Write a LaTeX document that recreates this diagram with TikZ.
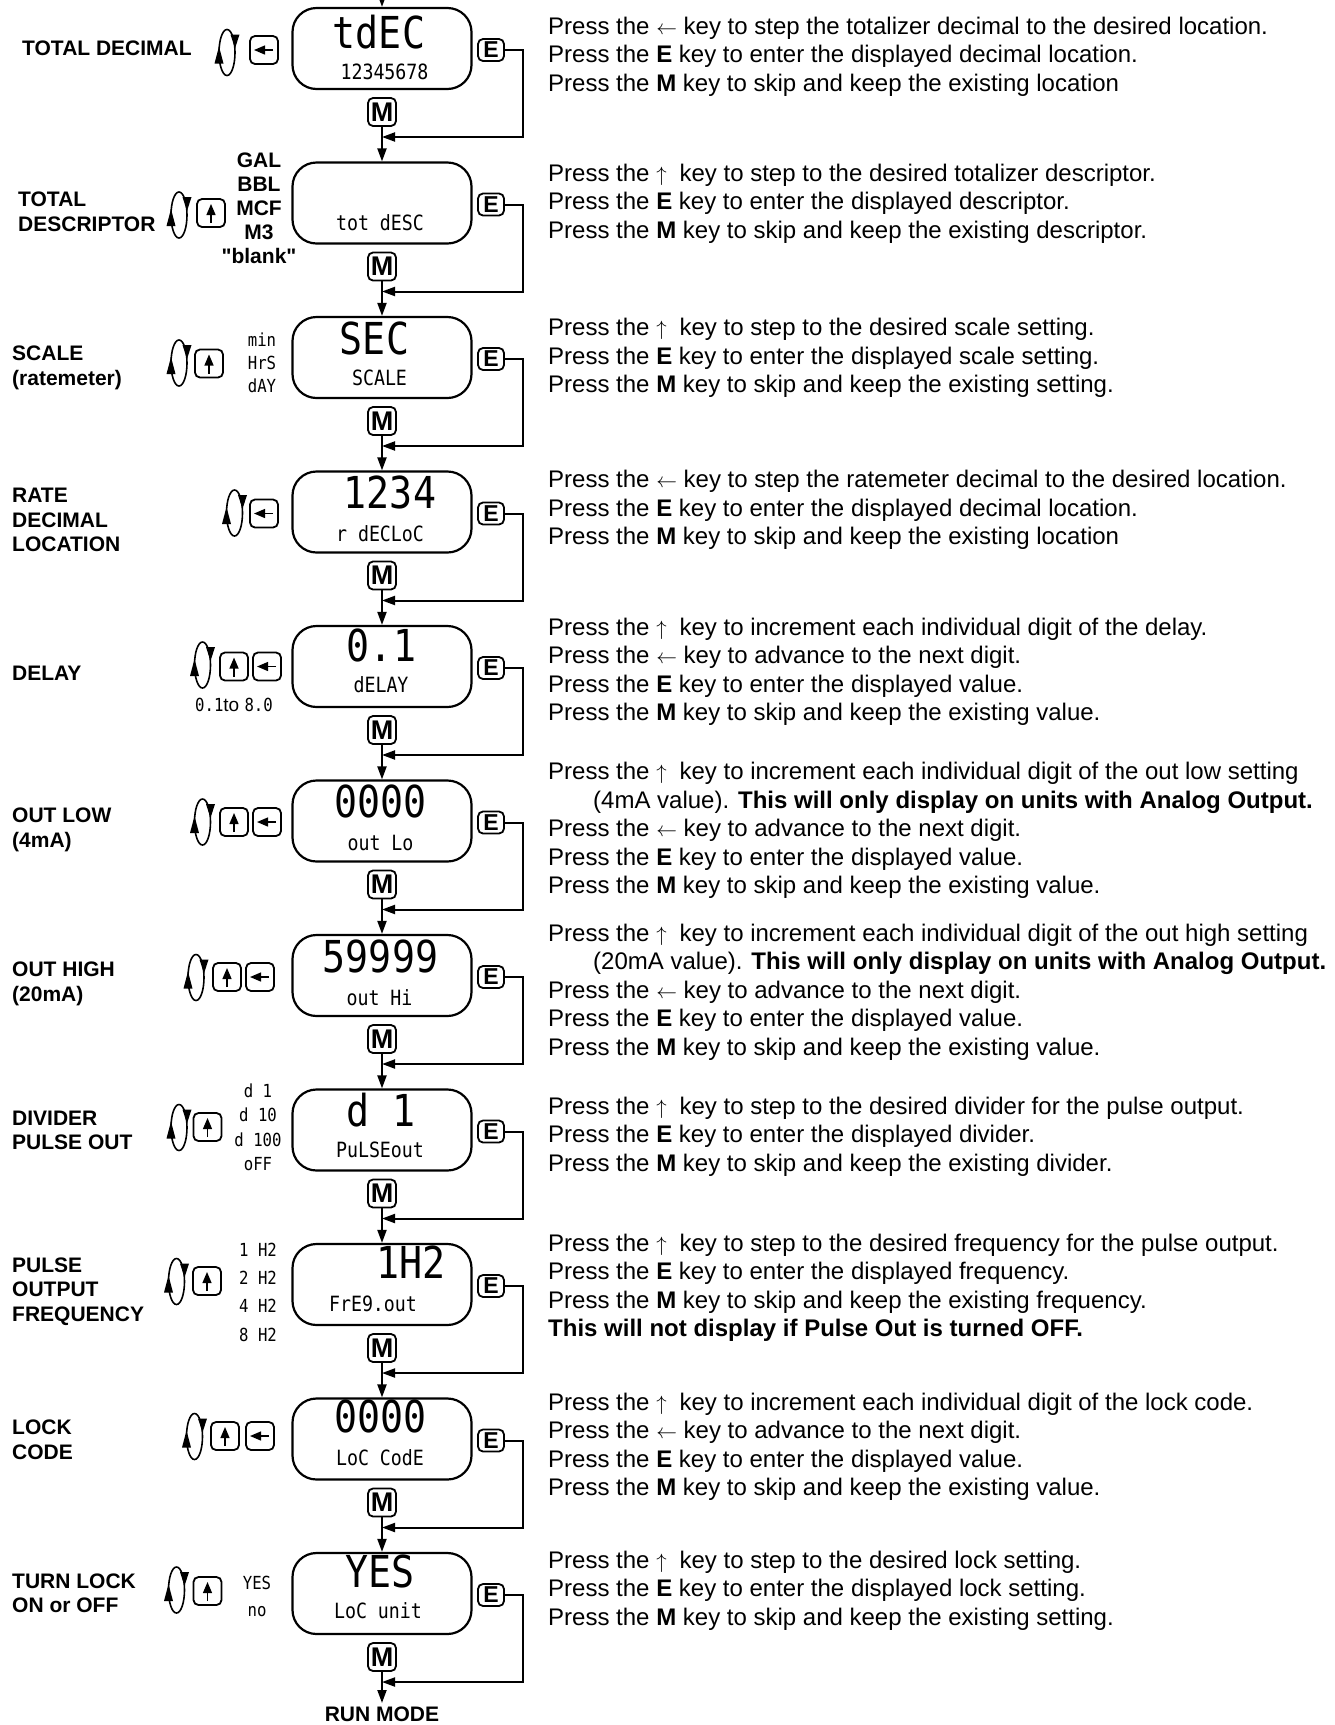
\documentclass[tikz,border=0pt]{standalone}
\usepackage{fontspec}
\setmainfont{Liberation Sans}[Ligatures=TeXOff]
\newfontfamily\lcdfont[FakeStretch=0.87]{DejaVu Sans Mono}
\usetikzlibrary{arrows.meta}

\newcommand{\lk}{{\fontsize{20}{20}\selectfont$\leftarrow$}}
\newcommand{\uk}{{\fontsize{20}{20}\selectfont$\uparrow$}\hspace{13pt}}
\newcommand{\lcdopt}{\lcdfont\fontsize{18}{18}\selectfont}

\tikzset{
	lcdbox/.style={draw, line width=2.2pt, rounded corners=24pt,
		minimum width=179pt, minimum height=81pt, inner sep=0pt},
	keybox/.style={draw, line width=1.8pt, rounded corners=5pt,
		minimum width=28pt, minimum height=28pt, inner sep=0pt},
	ekey/.style={keybox, minimum width=26pt, minimum height=22pt,
		font=\bfseries\fontsize{23}{23}\selectfont},
	mkey/.style={keybox, font=\bfseries\fontsize{27}{27}\selectfont},
	flow/.style={line width=2pt, -{Triangle[length=13pt,width=9pt]}},
	glyph/.style={line width=1.3pt, -{Triangle[length=11pt,width=9pt]}},
	lbl/.style={anchor=base west, align=left, inner sep=0pt,
		font=\bfseries\fontsize{21}{24.5}\selectfont},
	units/.style={anchor=base, align=center, inner sep=0pt,
		font=\bfseries\fontsize{21}{24}\selectfont},
	note/.style={anchor=base west, align=left, inner sep=0pt,
		font=\fontsize{24}{28.5}\selectfont},
	big/.style={inner sep=0pt, font=\lcdfont\fontsize{44}{44}\selectfont},
	small/.style={inner sep=0pt, font=\lcdfont\fontsize{21}{21}\selectfont},
	opts/.style={align=center, inner sep=0pt, font=\lcdfont\fontsize{18}{#1}\selectfont},
	opts/.default=24,
	loopicon/.pic={
		\draw[line width=1.6pt] (0,0) ellipse [x radius=8pt, y radius=23pt];
		\fill (-8,-6) -- (-12.5,11) -- (-3.5,11) -- cycle;
		\fill (8,-4) -- (3.5,-18) -- (12.5,-18) -- cycle;
	},
	upkey/.pic={
		\node[keybox] (-k) {};
		\draw[glyph] (0,10) -- (0,-9);
	},
	leftkey/.pic={
		\node[keybox] (-k) {};
		\draw[glyph] (9,0) -- (-10,0);
	},
}

\begin{document}
\begin{tikzpicture}[x=1pt,y=-1pt]
	\useasboundingbox (0,0) rectangle (1335,1725);

	% displays, E and M keys, return lines
	\foreach \k in {0,...,10}{
		\pgfmathsetmacro\yc{50+154.5*\k}
		\node[lcdbox] (d\k) at (382,\yc-1.5) {};
		\node[ekey] (e\k) at (491,\yc) {E};
		\node[mkey] (m\k) at (382,\yc+62) {M};
		\coordinate (j\k) at (382,\yc+87);
		\draw[flow] (e\k.east) -- ++(18,0) |- (j\k);
	}
	\coordinate (top) at (382,-6);
	\draw[flow] (top) -- (d0);
	\foreach \k [evaluate=\k as \n using int(\k+1)] in {0,...,9}
		\draw[flow] (m\k) -- (d\n);
	\node[lbl, anchor=north, inner ysep=4pt] (run) at (382,1703) {RUN MODE};
	\draw[flow] (m10) -- (run);

	% total decimal
	\node[lbl] (l0) at (22,55) {TOTAL DECIMAL};
	\pic (c0) at (227,52.5) {loopicon};
	\pic (k0) at (264,50) {leftkey};
	\node[big] (t0) at (379,32) {tdEC};
	\node[small] (s0) at (384.5,72) {12345678};
	\node[note] (n0) at (548,91) {Press the \lk\ key to step the totalizer decimal to the desired location.\\
		Press the \textbf{E} key to enter the displayed decimal location.\\
		Press the \textbf{M} key to skip and keep the existing location};

	% total descriptor
	\node[lbl] (l1) at (18,231) {TOTAL\\DESCRIPTOR};
	\pic (c1) at (179,215) {loopicon};
	\pic (k1) at (211,213) {upkey};
	\node[units] (o1) at (259,263.5) {GAL\\BBL\\MCF\\M3\\"blank"};
	\node[small] (s1) at (380,222.5) {tot dESC};
	\node[note] (n1) at (548,238) {Press the \uk key to step to the desired totalizer descriptor.\\
		Press the \textbf{E} key to enter the displayed descriptor.\\
		Press the \textbf{M} key to skip and keep the existing descriptor.};

	% scale
	\node[lbl] (l2) at (12,385) {SCALE\\(ratemeter)};
	\pic (c2) at (179,363) {loopicon};
	\pic (k2) at (209,363.5) {upkey};
	\node[opts=23] (o2) at (262,363) {min\\HrS\\dAY};
	\node[big] (t2) at (374.5,338.7) {SEC};
	\node[small] (s2) at (379.5,377.7) {SCALE};
	\node[note] (n2) at (548,392.5) {Press the \uk key to step to the desired scale setting.\\
		Press the \textbf{E} key to enter the displayed scale setting.\\
		Press the \textbf{M} key to skip and keep the existing setting.};

	% rate decimal
	\node[lbl] (l3) at (12,551.5) {RATE\\DECIMAL\\LOCATION};
	\pic (c3) at (234.5,513) {loopicon};
	\pic (k3) at (264,513.5) {leftkey};
	\node[big] (t3) at (390,492) {1234};
	\node[small] (s3) at (380,534) {r dECLoC};
	\node[note] (n3) at (548,544.5) {Press the \lk\ key to step the ratemeter decimal to the desired location.\\
		Press the \textbf{E} key to enter the displayed decimal location.\\
		Press the \textbf{M} key to skip and keep the existing location};

	% delay
	\node[lbl] (l4) at (12,680.5) {DELAY};
	\pic (c4) at (202.5,665) {loopicon};
	\pic (k4) at (234,666.5) {upkey};
	\pic (h4) at (267,666.5) {leftkey};
	\node[font=\fontsize{19}{19}\selectfont, inner sep=0pt] (r4) at (234,705) {{\lcdopt 0.1}to {\lcdopt 8.0}};
	\node[big] (t4) at (381.5,645) {0.1};
	\node[small] (s4) at (381,685) {dELAY};
	\node[note] (n4) at (548,720.5) {Press the \uk key to increment each individual digit of the delay.\\
		Press the \lk\ key to advance to the next digit.\\
		Press the \textbf{E} key to enter the displayed value.\\
		Press the \textbf{M} key to skip and keep the existing value.};

	% out low
	\node[lbl] (l5) at (12,847) {OUT LOW\\(4mA)};
	\pic (c5) at (202.5,822) {loopicon};
	\pic (k5) at (234,822) {upkey};
	\pic (h5) at (267,822) {leftkey};
	\node[big] (t5) at (380.5,801) {0000};
	\node[small] (s5) at (380.5,842.5) {out Lo};
	\node[note] (n5) at (548,893.5) {Press the \uk key to increment each individual digit of the out low setting\\
		\hspace*{45pt}(4mA value). \textbf{This will only display on units with Analog Output.}\\
		Press the \lk\ key to advance to the next digit.\\
		Press the \textbf{E} key to enter the displayed value.\\
		Press the \textbf{M} key to skip and keep the existing value.};

	% out high
	\node[lbl] (l6) at (12,1001) {OUT HIGH\\(20mA)};
	\pic (c6) at (196,977.5) {loopicon};
	\pic (k6) at (227,977) {upkey};
	\pic (h6) at (260,977) {leftkey};
	\node[big] (t6) at (380.5,956) {59999};
	\node[small] (s6) at (379.5,997.5) {out Hi};
	\node[note] (n6) at (548,1055) {Press the \uk key to increment each individual digit of the out high setting\\
		\hspace*{45pt}(20mA value). \textbf{This will only display on units with Analog Output.}\\
		Press the \lk\ key to advance to the next digit.\\
		Press the \textbf{E} key to enter the displayed value.\\
		Press the \textbf{M} key to skip and keep the existing value.};

	% divider
	\node[lbl] (l7) at (12,1149.5) {DIVIDER\\PULSE OUT};
	\pic (c7) at (179,1127.5) {loopicon};
	\pic (k7) at (207.5,1127) {upkey};
	\node[opts=24.5] (o7) at (258,1127.5) {d 1\\d 10\\d 100\\oFF};
	\node[big] (t7) at (381,1110) {d 1};
	\node[small] (s7) at (380,1149.5) {PuLSEout};
	\node[note] (n7) at (548,1171) {Press the \uk key to step to the desired divider for the pulse output.\\
		Press the \textbf{E} key to enter the displayed divider.\\
		Press the \textbf{M} key to skip and keep the existing divider.};

	% pulse frequency
	\node[lbl] (l8) at (12,1321) {PULSE\\OUTPUT\\FREQUENCY};
	\pic (c8) at (176.5,1281.5) {loopicon};
	\pic (k8) at (207,1281) {upkey};
	\node[opts=28.3] (o8) at (258,1292) {1 H2\\2 H2\\4 H2\\8 H2};
	\node[big] (t8) at (411,1262) {1H2};
	\node[small] (s8) at (373,1304) {FrE9.out};
	\node[note] (n8) at (548,1336.5) {Press the \uk key to step to the desired frequency for the pulse output.\\
		Press the \textbf{E} key to enter the displayed frequency.\\
		Press the \textbf{M} key to skip and keep the existing frequency.\\
		\textbf{This will not display if Pulse Out is turned OFF.}};

	% lock code
	\node[lbl] (l9) at (12,1459) {LOCK\\CODE};
	\pic (c9) at (194.5,1436.5) {loopicon};
	\pic (k9) at (225,1436) {upkey};
	\pic (h9) at (260,1436) {leftkey};
	\node[big] (t9) at (380.5,1416) {0000};
	\node[small] (s9) at (380,1457.5) {LoC CodE};
	\node[note] (n9) at (548,1495.5) {Press the \uk key to increment each individual digit of the lock code.\\
		Press the \lk\ key to advance to the next digit.\\
		Press the \textbf{E} key to enter the displayed value.\\
		Press the \textbf{M} key to skip and keep the existing value.};

	% lock on/off
	\node[lbl] (l10) at (12,1612.5) {TURN LOCK\\ON or OFF};
	\pic (c10) at (176.5,1590) {loopicon};
	\pic (k10) at (207.5,1591) {upkey};
	\node[opts=27] (o10) at (257,1596.5) {YES\\no};
	\node[big] (t10) at (380,1571) {YES};
	\node[small] (s10) at (378,1611) {LoC unit};
	\node[note] (n10) at (548,1625) {Press the \uk key to step to the desired lock setting.\\
		Press the \textbf{E} key to enter the displayed lock setting.\\
		Press the \textbf{M} key to skip and keep the existing setting.};
\end{tikzpicture}
\end{document}
